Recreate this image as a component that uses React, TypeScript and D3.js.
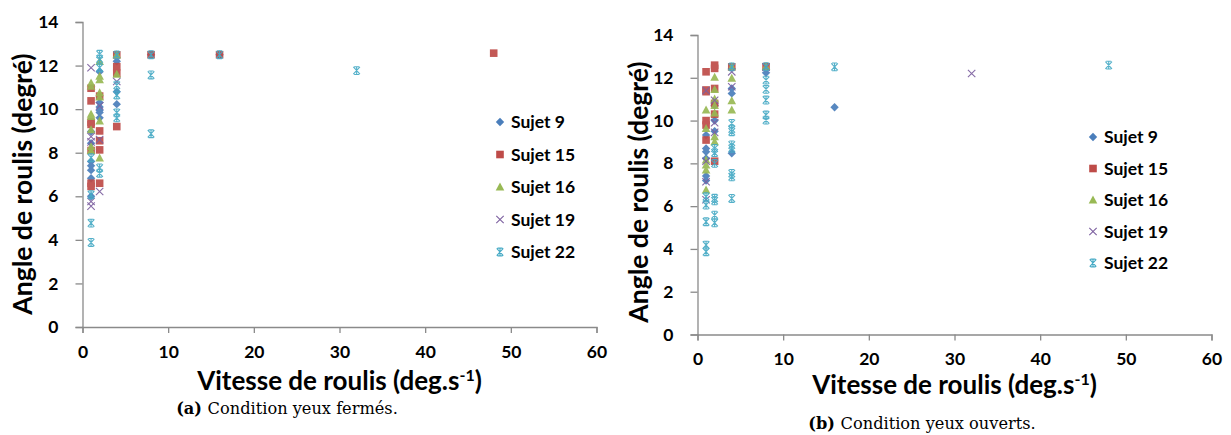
import React, { useEffect, useRef } from 'react';
import * as d3 from 'd3';

type Pt = [number, number];

const seriesNames = ['Sujet 9', 'Sujet 15', 'Sujet 16', 'Sujet 19', 'Sujet 22'];
const seriesColors = ['#4A7EBB', '#BE4B48', '#98B954', '#7D60A0', '#46AAC5'];
const seriesShapes = ['diamond', 'square', 'triangle', 'cross', 'star'];
const xTicks = [0, 10, 20, 30, 40, 50, 60];
const yTicks = [0, 2, 4, 6, 8, 10, 12, 14];

// (a) Condition yeux fermés
const aSujet9: Pt[] = [[1, 8.97], [1, 8.44], [1, 7.6], [1, 7.4], [1, 7.2], [1, 6.83], [1, 6.0], [2, 11.72], [2, 10.3], [2, 10.1], [2, 9.95], [2, 9.85], [2, 9.6], [4, 12.2], [4, 10.8], [4, 10.23], [8, 12.5], [16, 12.5]];
const aSujet15: Pt[] = [[1, 10.96], [1, 10.38], [1, 9.4], [1, 9.3], [1, 8.1], [1, 6.6], [1, 6.45], [2, 10.6], [2, 9.0], [2, 8.55], [2, 8.13], [2, 6.6], [4, 12.49], [4, 11.95], [4, 11.65], [4, 9.2], [8, 12.5], [16, 12.5], [48, 12.57]];
const aSujet16: Pt[] = [[1, 11.2], [1, 11.05], [1, 9.76], [1, 9.66], [1, 9.05], [1, 8.28], [1, 8.1], [2, 12.18], [2, 11.5], [2, 11.35], [2, 10.75], [2, 10.55], [2, 9.45], [2, 7.75], [4, 12.49], [4, 11.6]];
const aSujet19: Pt[] = [[1, 11.9], [1, 8.74], [1, 8.5], [1, 5.76], [1, 5.55], [2, 10.15], [2, 8.6], [2, 6.22], [4, 11.27]];
const aSujet22: Pt[] = [[1, 7.77], [1, 6.07], [1, 4.77], [1, 3.88], [2, 12.52], [2, 12.3], [2, 11.9], [2, 7.3], [2, 7.06], [4, 12.49], [4, 11.1], [4, 10.65], [4, 9.83], [4, 9.6], [8, 12.5], [8, 11.57], [8, 8.87], [16, 12.5], [32, 11.77]];

// (b) Condition yeux ouverts
const bSujet9: Pt[] = [[1, 9.32], [1, 8.7], [1, 8.54], [1, 8.23], [1, 7.41], [1, 7.2], [2, 10.7], [2, 10.0], [2, 9.5], [4, 11.5], [4, 11.27], [4, 8.47], [8, 12.23], [16, 10.62]];
const bSujet15: Pt[] = [[1, 12.28], [1, 11.43], [1, 11.35], [1, 10.0], [1, 9.79], [1, 9.09], [2, 12.59], [2, 12.44], [2, 11.5], [2, 10.8], [2, 10.3], [2, 8.1], [4, 12.51], [8, 12.52]];
const bSujet16: Pt[] = [[1, 10.49], [1, 9.63], [1, 8.15], [1, 7.92], [1, 7.69], [1, 6.75], [2, 12.02], [2, 11.45], [2, 11.0], [2, 10.7], [2, 10.35], [2, 9.24], [2, 9.0], [4, 12.51], [4, 11.97], [4, 10.92], [4, 10.49], [8, 12.52]];
const bSujet19: Pt[] = [[1, 11.4], [1, 8.1], [1, 7.14], [1, 6.3], [2, 10.95], [2, 9.9], [2, 9.45], [4, 12.28], [4, 11.58], [8, 12.5], [32, 12.2]];
const bSujet22: Pt[] = [[1, 6.44], [1, 6.05], [1, 5.27], [1, 4.18], [1, 3.87], [2, 8.7], [2, 8.5], [2, 8.0], [2, 6.37], [2, 6.25], [2, 5.58], [2, 5.22], [4, 12.51], [4, 9.87], [4, 9.6], [4, 9.48], [4, 8.86], [4, 8.7], [4, 7.53], [4, 7.37], [4, 6.36], [8, 12.52], [8, 11.89], [8, 11.46], [8, 10.96], [8, 10.26], [8, 10.02], [16, 12.51], [48, 12.59]];

const chartA = [aSujet9, aSujet15, aSujet16, aSujet19, aSujet22];
const chartB = [bSujet9, bSujet15, bSujet16, bSujet19, bSujet22];

const FONT = 'Lato, "Open Sans", sans-serif';

interface Layout {
  x0: number; x1: number; yTop: number; yBot: number;
  yTitleX: number; yTitleY: number;
  legX: number; legY: number; legStep: number;
  capX: number; capY: number; capTag: string; capText: string;
  tickLabY: number; xTitleY: number;
}

function drawMarker(g: d3.Selection<SVGGElement, unknown, null, undefined>, shape: string, color: string, x: number, y: number) {
  const s = 4.2;
  if (shape === 'diamond') {
    g.append('path').attr('d', `M${x},${y - s}L${x + s},${y}L${x},${y + s}L${x - s},${y}Z`).attr('fill', color);
  } else if (shape === 'square') {
    g.append('rect').attr('x', x - 3.8).attr('y', y - 3.8).attr('width', 7.6).attr('height', 7.6).attr('fill', color);
  } else if (shape === 'triangle') {
    g.append('path').attr('d', `M${x},${y - 4.6}L${x + 4.3},${y + 3.4}L${x - 4.3},${y + 3.4}Z`).attr('fill', color);
  } else if (shape === 'cross') {
    g.append('path').attr('d', `M${x - 3.7},${y - 3.7}L${x + 3.7},${y + 3.7}M${x - 3.7},${y + 3.7}L${x + 3.7},${y - 3.7}`)
      .attr('stroke', color).attr('stroke-width', 1.1).attr('fill', 'none');
  } else {
    g.append('path').attr('d', `M${x - 3.3},${y - 3.6}L${x + 3.3},${y + 3.6}M${x - 3.3},${y + 3.6}L${x + 3.3},${y - 3.6}M${x},${y - 3.9}L${x},${y + 3.9}M${x - 2.5},${y - 3.9}L${x + 2.5},${y - 3.9}M${x - 2.5},${y + 3.9}L${x + 2.5},${y + 3.9}`)
      .attr('stroke', color).attr('stroke-width', 1.1).attr('fill', 'none');
  }
}

function drawChart(svg: d3.Selection<SVGSVGElement, unknown, null, undefined>, data: Pt[][], L: Layout) {
  const x = d3.scaleLinear().domain([0, 60]).range([L.x0, L.x1]);
  const y = d3.scaleLinear().domain([0, 14]).range([L.yBot, L.yTop]);
  const g = svg.append('g');

  const axisColor = '#8A8A8A';
  const ya = d3.axisLeft(y).tickValues(yTicks).tickSize(7).tickPadding(17).tickFormat(d3.format('d'));
  const yg = g.append('g').attr('transform', `translate(${L.x0},0)`).call(ya);
  yg.select('.domain').attr('stroke', axisColor).attr('stroke-width', 1.3);
  yg.selectAll('.tick line').attr('stroke', axisColor).attr('stroke-width', 1.3);
  yg.selectAll('.tick text').attr('font-family', FONT).attr('font-weight', 700).attr('font-size', 17.5).attr('fill', '#000');

  const xa = d3.axisBottom(x).tickValues(xTicks).tickSize(6).tickPadding(0).tickFormat(d3.format('d'));
  const xg = g.append('g').attr('transform', `translate(0,${L.yBot})`).call(xa);
  xg.select('.domain').attr('stroke', axisColor).attr('stroke-width', 1.3);
  xg.selectAll('.tick line').attr('stroke', axisColor).attr('stroke-width', 1.3);
  xg.selectAll('.tick text').attr('font-family', FONT).attr('font-weight', 700).attr('font-size', 17.5).attr('fill', '#000')
    .attr('y', L.tickLabY - L.yBot).attr('dy', '0.35em');

  data.forEach((pts, i) => {
    const sg = g.append('g').attr('opacity', 0.92);
    pts.forEach(([px, py]) => drawMarker(sg, seriesShapes[i], seriesColors[i], x(px), y(py)));
  });

  seriesNames.forEach((name, i) => {
    const ly = L.legY + i * L.legStep;
    drawMarker(g, seriesShapes[i], seriesColors[i], L.legX, ly);
    g.append('text').attr('x', L.legX + 11).attr('y', ly).attr('dy', '0.35em')
      .attr('font-family', FONT).attr('font-weight', 700).attr('font-size', 17.5).attr('fill', '#000').text(name);
  });

  g.append('text').attr('transform', `translate(${L.yTitleX},${L.yTitleY}) rotate(-90)`)
    .attr('text-anchor', 'middle').attr('dy', '0.35em')
    .attr('font-family', FONT).attr('font-weight', 700).attr('font-size', 26.5).attr('fill', '#000')
    .text('Angle de roulis (degré)');

  const xt = g.append('text').attr('x', (L.x0 + L.x1) / 2).attr('y', L.xTitleY).attr('dy', '0.35em')
    .attr('text-anchor', 'middle')
    .attr('font-family', FONT).attr('font-weight', 700).attr('font-size', 26).attr('fill', '#000');
  xt.append('tspan').text('Vitesse de roulis (deg.s');
  xt.append('tspan').attr('font-size', 16).attr('dy', '-0.55em').text('-1');
  xt.append('tspan').attr('dy', '0.35em').text(')');

  const ct = g.append('text').attr('x', L.capX).attr('y', L.capY).attr('dy', '0.35em').attr('text-anchor', 'middle')
    .attr('font-family', '"DejaVu Serif", serif').attr('font-size', 16.2).attr('fill', '#000');
  ct.append('tspan').attr('font-weight', 700).text(L.capTag + ' ');
  ct.append('tspan').text(L.capText);
}

export default function App() {
  const ref = useRef<SVGSVGElement>(null);
  useEffect(() => {
    const svg = d3.select(ref.current!);
    svg.selectAll('*').remove();
    drawChart(svg as any, chartA, {
      x0: 82.5, x1: 596.5, yTop: 22, yBot: 327,
      yTitleX: 23, yTitleY: 184,
      legX: 500, legY: 122, legStep: 32.5,
      capX: 287, capY: 408, capTag: '(a)', capText: 'Condition yeux fermés.',
      tickLabY: 352, xTitleY: 381,
    });
    drawChart(svg as any, chartB, {
      x0: 697.5, x1: 1211.5, yTop: 35, yBot: 334.5,
      yTitleX: 639, yTitleY: 192,
      legX: 1093, legY: 137, legStep: 31.5,
      capX: 922, capY: 423, capTag: '(b)', capText: 'Condition yeux ouverts.',
      tickLabY: 359, xTitleY: 385,
    });
  }, []);
  return (
    <svg ref={ref} width={1231} height={435} style={{ position: 'absolute', left: 0, top: 0, background: '#fff' }} />
  );
}
